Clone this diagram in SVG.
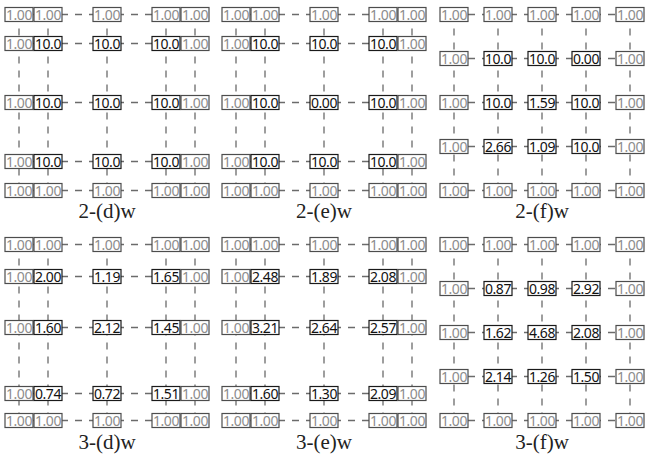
<svg xmlns="http://www.w3.org/2000/svg" xmlns:xlink="http://www.w3.org/1999/xlink" width="645" height="459" viewBox="0 0 645 459">
  <style>
    .c line { stroke:#6b6b6b; stroke-width:1.3; stroke-dasharray:7 7; fill:none }
    .n use { fill:#fff; stroke-width:1.2 }
    .g use { stroke:#4d4d4d }
    .k use { stroke:#1a1a1a }
    .n text { font-family:"Noto Sans","DejaVu Sans",sans-serif; font-size:14px; letter-spacing:-0.4px; text-anchor:middle }
    .g text { fill:#8c8c8c }
    .k text { fill:#111 }
    .lbl { font-family:"Liberation Serif","Times New Roman",serif; font-size:21px; text-anchor:middle; fill:#222 }
  </style>
  <defs>
    <rect id="box" x="-14" y="-7" width="28" height="14"/>
  </defs>
  <rect width="645" height="459" fill="#fff"/>

  <!-- dashed grid connectors -->
  <g id="connectors" class="c">
    <!-- 2-(d)w -->
    <line x1="19" y1="14.5" x2="195" y2="14.5"/>
    <line x1="19" y1="43.5" x2="195" y2="43.5"/>
    <line x1="19" y1="102.5" x2="195" y2="102.5"/>
    <line x1="19" y1="161.5" x2="195" y2="161.5"/>
    <line x1="19" y1="190.5" x2="195" y2="190.5"/>
    <line x1="19" y1="14.5" x2="19" y2="190.5"/>
    <line x1="48" y1="14.5" x2="48" y2="190.5"/>
    <line x1="107" y1="14.5" x2="107" y2="190.5"/>
    <line x1="166" y1="14.5" x2="166" y2="190.5"/>
    <line x1="195" y1="14.5" x2="195" y2="190.5"/>
    <!-- 2-(e)w -->
    <line x1="236" y1="14.5" x2="412" y2="14.5"/>
    <line x1="236" y1="43.5" x2="412" y2="43.5"/>
    <line x1="236" y1="102.5" x2="412" y2="102.5"/>
    <line x1="236" y1="161.5" x2="412" y2="161.5"/>
    <line x1="236" y1="190.5" x2="412" y2="190.5"/>
    <line x1="236" y1="14.5" x2="236" y2="190.5"/>
    <line x1="265" y1="14.5" x2="265" y2="190.5"/>
    <line x1="324" y1="14.5" x2="324" y2="190.5"/>
    <line x1="383" y1="14.5" x2="383" y2="190.5"/>
    <line x1="412" y1="14.5" x2="412" y2="190.5"/>
    <!-- 2-(f)w -->
    <line x1="454" y1="14.5" x2="630" y2="14.5"/>
    <line x1="454" y1="58.5" x2="630" y2="58.5"/>
    <line x1="454" y1="102.5" x2="630" y2="102.5"/>
    <line x1="454" y1="146.5" x2="630" y2="146.5"/>
    <line x1="454" y1="190.5" x2="630" y2="190.5"/>
    <line x1="454" y1="14.5" x2="454" y2="190.5"/>
    <line x1="498" y1="14.5" x2="498" y2="190.5"/>
    <line x1="542" y1="14.5" x2="542" y2="190.5"/>
    <line x1="586" y1="14.5" x2="586" y2="190.5"/>
    <line x1="630" y1="14.5" x2="630" y2="190.5"/>
    <!-- 3-(d)w -->
    <line x1="19" y1="244.5" x2="195" y2="244.5"/>
    <line x1="19" y1="276.5" x2="195" y2="276.5"/>
    <line x1="19" y1="327.5" x2="195" y2="327.5"/>
    <line x1="19" y1="393.5" x2="195" y2="393.5"/>
    <line x1="19" y1="420.5" x2="195" y2="420.5"/>
    <line x1="19" y1="244.5" x2="19" y2="420.5"/>
    <line x1="48" y1="244.5" x2="48" y2="420.5"/>
    <line x1="107" y1="244.5" x2="107" y2="420.5"/>
    <line x1="166" y1="244.5" x2="166" y2="420.5"/>
    <line x1="195" y1="244.5" x2="195" y2="420.5"/>
    <!-- 3-(e)w -->
    <line x1="236" y1="244.5" x2="412" y2="244.5"/>
    <line x1="236" y1="276.5" x2="412" y2="276.5"/>
    <line x1="236" y1="327.5" x2="412" y2="327.5"/>
    <line x1="236" y1="393.5" x2="412" y2="393.5"/>
    <line x1="236" y1="420.5" x2="412" y2="420.5"/>
    <line x1="236" y1="244.5" x2="236" y2="420.5"/>
    <line x1="265" y1="244.5" x2="265" y2="420.5"/>
    <line x1="324" y1="244.5" x2="324" y2="420.5"/>
    <line x1="383" y1="244.5" x2="383" y2="420.5"/>
    <line x1="412" y1="244.5" x2="412" y2="420.5"/>
    <!-- 3-(f)w -->
    <line x1="454" y1="244.5" x2="630" y2="244.5"/>
    <line x1="454" y1="288.5" x2="630" y2="288.5"/>
    <line x1="454" y1="332.5" x2="630" y2="332.5"/>
    <line x1="454" y1="376.5" x2="630" y2="376.5"/>
    <line x1="454" y1="420.5" x2="630" y2="420.5"/>
    <line x1="454" y1="244.5" x2="454" y2="420.5"/>
    <line x1="498" y1="244.5" x2="498" y2="420.5"/>
    <line x1="542" y1="244.5" x2="542" y2="420.5"/>
    <line x1="586" y1="244.5" x2="586" y2="420.5"/>
    <line x1="630" y1="244.5" x2="630" y2="420.5"/>
  </g>

  <!-- panel 2-(d)w -->
  <g id="p2d">
    <g id="d2-11" class="n g" transform="translate(19,14.5)"><use href="#box"/><text y="5">1.00</text></g>
    <g id="d2-12" class="n g" transform="translate(48,14.5)"><use href="#box"/><text y="5">1.00</text></g>
    <g id="d2-13" class="n g" transform="translate(107,14.5)"><use href="#box"/><text y="5">1.00</text></g>
    <g id="d2-14" class="n g" transform="translate(166,14.5)"><use href="#box"/><text y="5">1.00</text></g>
    <g id="d2-15" class="n g" transform="translate(195,14.5)"><use href="#box"/><text y="5">1.00</text></g>
    <g id="d2-21" class="n g" transform="translate(19,43.5)"><use href="#box"/><text y="5">1.00</text></g>
    <g id="d2-22" class="n k" transform="translate(48,43.5)"><use href="#box"/><text y="5">10.0</text></g>
    <g id="d2-23" class="n k" transform="translate(107,43.5)"><use href="#box"/><text y="5">10.0</text></g>
    <g id="d2-24" class="n k" transform="translate(166,43.5)"><use href="#box"/><text y="5">10.0</text></g>
    <g id="d2-25" class="n g" transform="translate(195,43.5)"><use href="#box"/><text y="5">1.00</text></g>
    <g id="d2-31" class="n g" transform="translate(19,102.5)"><use href="#box"/><text y="5">1.00</text></g>
    <g id="d2-32" class="n k" transform="translate(48,102.5)"><use href="#box"/><text y="5">10.0</text></g>
    <g id="d2-33" class="n k" transform="translate(107,102.5)"><use href="#box"/><text y="5">10.0</text></g>
    <g id="d2-34" class="n k" transform="translate(166,102.5)"><use href="#box"/><text y="5">10.0</text></g>
    <g id="d2-35" class="n g" transform="translate(195,102.5)"><use href="#box"/><text y="5">1.00</text></g>
    <g id="d2-41" class="n g" transform="translate(19,161.5)"><use href="#box"/><text y="5">1.00</text></g>
    <g id="d2-42" class="n k" transform="translate(48,161.5)"><use href="#box"/><text y="5">10.0</text></g>
    <g id="d2-43" class="n k" transform="translate(107,161.5)"><use href="#box"/><text y="5">10.0</text></g>
    <g id="d2-44" class="n k" transform="translate(166,161.5)"><use href="#box"/><text y="5">10.0</text></g>
    <g id="d2-45" class="n g" transform="translate(195,161.5)"><use href="#box"/><text y="5">1.00</text></g>
    <g id="d2-51" class="n g" transform="translate(19,190.5)"><use href="#box"/><text y="5">1.00</text></g>
    <g id="d2-52" class="n g" transform="translate(48,190.5)"><use href="#box"/><text y="5">1.00</text></g>
    <g id="d2-53" class="n g" transform="translate(107,190.5)"><use href="#box"/><text y="5">1.00</text></g>
    <g id="d2-54" class="n g" transform="translate(166,190.5)"><use href="#box"/><text y="5">1.00</text></g>
    <g id="d2-55" class="n g" transform="translate(195,190.5)"><use href="#box"/><text y="5">1.00</text></g>
    <text class="lbl" x="107" y="218">2-(d)w</text>
  </g>

  <!-- panel 2-(e)w -->
  <g id="p2e">
    <g id="e2-11" class="n g" transform="translate(236,14.5)"><use href="#box"/><text y="5">1.00</text></g>
    <g id="e2-12" class="n g" transform="translate(265,14.5)"><use href="#box"/><text y="5">1.00</text></g>
    <g id="e2-13" class="n g" transform="translate(324,14.5)"><use href="#box"/><text y="5">1.00</text></g>
    <g id="e2-14" class="n g" transform="translate(383,14.5)"><use href="#box"/><text y="5">1.00</text></g>
    <g id="e2-15" class="n g" transform="translate(412,14.5)"><use href="#box"/><text y="5">1.00</text></g>
    <g id="e2-21" class="n g" transform="translate(236,43.5)"><use href="#box"/><text y="5">1.00</text></g>
    <g id="e2-22" class="n k" transform="translate(265,43.5)"><use href="#box"/><text y="5">10.0</text></g>
    <g id="e2-23" class="n k" transform="translate(324,43.5)"><use href="#box"/><text y="5">10.0</text></g>
    <g id="e2-24" class="n k" transform="translate(383,43.5)"><use href="#box"/><text y="5">10.0</text></g>
    <g id="e2-25" class="n g" transform="translate(412,43.5)"><use href="#box"/><text y="5">1.00</text></g>
    <g id="e2-31" class="n g" transform="translate(236,102.5)"><use href="#box"/><text y="5">1.00</text></g>
    <g id="e2-32" class="n k" transform="translate(265,102.5)"><use href="#box"/><text y="5">10.0</text></g>
    <g id="e2-33" class="n k" transform="translate(324,102.5)"><use href="#box"/><text y="5">0.00</text></g>
    <g id="e2-34" class="n k" transform="translate(383,102.5)"><use href="#box"/><text y="5">10.0</text></g>
    <g id="e2-35" class="n g" transform="translate(412,102.5)"><use href="#box"/><text y="5">1.00</text></g>
    <g id="e2-41" class="n g" transform="translate(236,161.5)"><use href="#box"/><text y="5">1.00</text></g>
    <g id="e2-42" class="n k" transform="translate(265,161.5)"><use href="#box"/><text y="5">10.0</text></g>
    <g id="e2-43" class="n k" transform="translate(324,161.5)"><use href="#box"/><text y="5">10.0</text></g>
    <g id="e2-44" class="n k" transform="translate(383,161.5)"><use href="#box"/><text y="5">10.0</text></g>
    <g id="e2-45" class="n g" transform="translate(412,161.5)"><use href="#box"/><text y="5">1.00</text></g>
    <g id="e2-51" class="n g" transform="translate(236,190.5)"><use href="#box"/><text y="5">1.00</text></g>
    <g id="e2-52" class="n g" transform="translate(265,190.5)"><use href="#box"/><text y="5">1.00</text></g>
    <g id="e2-53" class="n g" transform="translate(324,190.5)"><use href="#box"/><text y="5">1.00</text></g>
    <g id="e2-54" class="n g" transform="translate(383,190.5)"><use href="#box"/><text y="5">1.00</text></g>
    <g id="e2-55" class="n g" transform="translate(412,190.5)"><use href="#box"/><text y="5">1.00</text></g>
    <text class="lbl" x="324" y="218">2-(e)w</text>
  </g>

  <!-- panel 2-(f)w -->
  <g id="p2f">
    <g id="f2-11" class="n g" transform="translate(454,14.5)"><use href="#box"/><text y="5">1.00</text></g>
    <g id="f2-12" class="n g" transform="translate(498,14.5)"><use href="#box"/><text y="5">1.00</text></g>
    <g id="f2-13" class="n g" transform="translate(542,14.5)"><use href="#box"/><text y="5">1.00</text></g>
    <g id="f2-14" class="n g" transform="translate(586,14.5)"><use href="#box"/><text y="5">1.00</text></g>
    <g id="f2-15" class="n g" transform="translate(630,14.5)"><use href="#box"/><text y="5">1.00</text></g>
    <g id="f2-21" class="n g" transform="translate(454,58.5)"><use href="#box"/><text y="5">1.00</text></g>
    <g id="f2-22" class="n k" transform="translate(498,58.5)"><use href="#box"/><text y="5">10.0</text></g>
    <g id="f2-23" class="n k" transform="translate(542,58.5)"><use href="#box"/><text y="5">10.0</text></g>
    <g id="f2-24" class="n k" transform="translate(586,58.5)"><use href="#box"/><text y="5">0.00</text></g>
    <g id="f2-25" class="n g" transform="translate(630,58.5)"><use href="#box"/><text y="5">1.00</text></g>
    <g id="f2-31" class="n g" transform="translate(454,102.5)"><use href="#box"/><text y="5">1.00</text></g>
    <g id="f2-32" class="n k" transform="translate(498,102.5)"><use href="#box"/><text y="5">10.0</text></g>
    <g id="f2-33" class="n k" transform="translate(542,102.5)"><use href="#box"/><text y="5">1.59</text></g>
    <g id="f2-34" class="n k" transform="translate(586,102.5)"><use href="#box"/><text y="5">10.0</text></g>
    <g id="f2-35" class="n g" transform="translate(630,102.5)"><use href="#box"/><text y="5">1.00</text></g>
    <g id="f2-41" class="n g" transform="translate(454,146.5)"><use href="#box"/><text y="5">1.00</text></g>
    <g id="f2-42" class="n k" transform="translate(498,146.5)"><use href="#box"/><text y="5">2.66</text></g>
    <g id="f2-43" class="n k" transform="translate(542,146.5)"><use href="#box"/><text y="5">1.09</text></g>
    <g id="f2-44" class="n k" transform="translate(586,146.5)"><use href="#box"/><text y="5">10.0</text></g>
    <g id="f2-45" class="n g" transform="translate(630,146.5)"><use href="#box"/><text y="5">1.00</text></g>
    <g id="f2-51" class="n g" transform="translate(454,190.5)"><use href="#box"/><text y="5">1.00</text></g>
    <g id="f2-52" class="n g" transform="translate(498,190.5)"><use href="#box"/><text y="5">1.00</text></g>
    <g id="f2-53" class="n g" transform="translate(542,190.5)"><use href="#box"/><text y="5">1.00</text></g>
    <g id="f2-54" class="n g" transform="translate(586,190.5)"><use href="#box"/><text y="5">1.00</text></g>
    <g id="f2-55" class="n g" transform="translate(630,190.5)"><use href="#box"/><text y="5">1.00</text></g>
    <text class="lbl" x="542" y="218">2-(f)w</text>
  </g>

  <!-- panel 3-(d)w -->
  <g id="p3d">
    <g id="d3-11" class="n g" transform="translate(19,244.5)"><use href="#box"/><text y="5">1.00</text></g>
    <g id="d3-12" class="n g" transform="translate(48,244.5)"><use href="#box"/><text y="5">1.00</text></g>
    <g id="d3-13" class="n g" transform="translate(107,244.5)"><use href="#box"/><text y="5">1.00</text></g>
    <g id="d3-14" class="n g" transform="translate(166,244.5)"><use href="#box"/><text y="5">1.00</text></g>
    <g id="d3-15" class="n g" transform="translate(195,244.5)"><use href="#box"/><text y="5">1.00</text></g>
    <g id="d3-21" class="n g" transform="translate(19,276.5)"><use href="#box"/><text y="5">1.00</text></g>
    <g id="d3-22" class="n k" transform="translate(48,276.5)"><use href="#box"/><text y="5">2.00</text></g>
    <g id="d3-23" class="n k" transform="translate(107,276.5)"><use href="#box"/><text y="5">1.19</text></g>
    <g id="d3-24" class="n k" transform="translate(166,276.5)"><use href="#box"/><text y="5">1.65</text></g>
    <g id="d3-25" class="n g" transform="translate(195,276.5)"><use href="#box"/><text y="5">1.00</text></g>
    <g id="d3-31" class="n g" transform="translate(19,327.5)"><use href="#box"/><text y="5">1.00</text></g>
    <g id="d3-32" class="n k" transform="translate(48,327.5)"><use href="#box"/><text y="5">1.60</text></g>
    <g id="d3-33" class="n k" transform="translate(107,327.5)"><use href="#box"/><text y="5">2.12</text></g>
    <g id="d3-34" class="n k" transform="translate(166,327.5)"><use href="#box"/><text y="5">1.45</text></g>
    <g id="d3-35" class="n g" transform="translate(195,327.5)"><use href="#box"/><text y="5">1.00</text></g>
    <g id="d3-41" class="n g" transform="translate(19,393.5)"><use href="#box"/><text y="5">1.00</text></g>
    <g id="d3-42" class="n k" transform="translate(48,393.5)"><use href="#box"/><text y="5">0.74</text></g>
    <g id="d3-43" class="n k" transform="translate(107,393.5)"><use href="#box"/><text y="5">0.72</text></g>
    <g id="d3-44" class="n k" transform="translate(166,393.5)"><use href="#box"/><text y="5">1.51</text></g>
    <g id="d3-45" class="n g" transform="translate(195,393.5)"><use href="#box"/><text y="5">1.00</text></g>
    <g id="d3-51" class="n g" transform="translate(19,420.5)"><use href="#box"/><text y="5">1.00</text></g>
    <g id="d3-52" class="n g" transform="translate(48,420.5)"><use href="#box"/><text y="5">1.00</text></g>
    <g id="d3-53" class="n g" transform="translate(107,420.5)"><use href="#box"/><text y="5">1.00</text></g>
    <g id="d3-54" class="n g" transform="translate(166,420.5)"><use href="#box"/><text y="5">1.00</text></g>
    <g id="d3-55" class="n g" transform="translate(195,420.5)"><use href="#box"/><text y="5">1.00</text></g>
    <text class="lbl" x="107" y="449">3-(d)w</text>
  </g>

  <!-- panel 3-(e)w -->
  <g id="p3e">
    <g id="e3-11" class="n g" transform="translate(236,244.5)"><use href="#box"/><text y="5">1.00</text></g>
    <g id="e3-12" class="n g" transform="translate(265,244.5)"><use href="#box"/><text y="5">1.00</text></g>
    <g id="e3-13" class="n g" transform="translate(324,244.5)"><use href="#box"/><text y="5">1.00</text></g>
    <g id="e3-14" class="n g" transform="translate(383,244.5)"><use href="#box"/><text y="5">1.00</text></g>
    <g id="e3-15" class="n g" transform="translate(412,244.5)"><use href="#box"/><text y="5">1.00</text></g>
    <g id="e3-21" class="n g" transform="translate(236,276.5)"><use href="#box"/><text y="5">1.00</text></g>
    <g id="e3-22" class="n k" transform="translate(265,276.5)"><use href="#box"/><text y="5">2.48</text></g>
    <g id="e3-23" class="n k" transform="translate(324,276.5)"><use href="#box"/><text y="5">1.89</text></g>
    <g id="e3-24" class="n k" transform="translate(383,276.5)"><use href="#box"/><text y="5">2.08</text></g>
    <g id="e3-25" class="n g" transform="translate(412,276.5)"><use href="#box"/><text y="5">1.00</text></g>
    <g id="e3-31" class="n g" transform="translate(236,327.5)"><use href="#box"/><text y="5">1.00</text></g>
    <g id="e3-32" class="n k" transform="translate(265,327.5)"><use href="#box"/><text y="5">3.21</text></g>
    <g id="e3-33" class="n k" transform="translate(324,327.5)"><use href="#box"/><text y="5">2.64</text></g>
    <g id="e3-34" class="n k" transform="translate(383,327.5)"><use href="#box"/><text y="5">2.57</text></g>
    <g id="e3-35" class="n g" transform="translate(412,327.5)"><use href="#box"/><text y="5">1.00</text></g>
    <g id="e3-41" class="n g" transform="translate(236,393.5)"><use href="#box"/><text y="5">1.00</text></g>
    <g id="e3-42" class="n k" transform="translate(265,393.5)"><use href="#box"/><text y="5">1.60</text></g>
    <g id="e3-43" class="n k" transform="translate(324,393.5)"><use href="#box"/><text y="5">1.30</text></g>
    <g id="e3-44" class="n k" transform="translate(383,393.5)"><use href="#box"/><text y="5">2.09</text></g>
    <g id="e3-45" class="n g" transform="translate(412,393.5)"><use href="#box"/><text y="5">1.00</text></g>
    <g id="e3-51" class="n g" transform="translate(236,420.5)"><use href="#box"/><text y="5">1.00</text></g>
    <g id="e3-52" class="n g" transform="translate(265,420.5)"><use href="#box"/><text y="5">1.00</text></g>
    <g id="e3-53" class="n g" transform="translate(324,420.5)"><use href="#box"/><text y="5">1.00</text></g>
    <g id="e3-54" class="n g" transform="translate(383,420.5)"><use href="#box"/><text y="5">1.00</text></g>
    <g id="e3-55" class="n g" transform="translate(412,420.5)"><use href="#box"/><text y="5">1.00</text></g>
    <text class="lbl" x="324" y="449">3-(e)w</text>
  </g>

  <!-- panel 3-(f)w -->
  <g id="p3f">
    <g id="f3-11" class="n g" transform="translate(454,244.5)"><use href="#box"/><text y="5">1.00</text></g>
    <g id="f3-12" class="n g" transform="translate(498,244.5)"><use href="#box"/><text y="5">1.00</text></g>
    <g id="f3-13" class="n g" transform="translate(542,244.5)"><use href="#box"/><text y="5">1.00</text></g>
    <g id="f3-14" class="n g" transform="translate(586,244.5)"><use href="#box"/><text y="5">1.00</text></g>
    <g id="f3-15" class="n g" transform="translate(630,244.5)"><use href="#box"/><text y="5">1.00</text></g>
    <g id="f3-21" class="n g" transform="translate(454,288.5)"><use href="#box"/><text y="5">1.00</text></g>
    <g id="f3-22" class="n k" transform="translate(498,288.5)"><use href="#box"/><text y="5">0.87</text></g>
    <g id="f3-23" class="n k" transform="translate(542,288.5)"><use href="#box"/><text y="5">0.98</text></g>
    <g id="f3-24" class="n k" transform="translate(586,288.5)"><use href="#box"/><text y="5">2.92</text></g>
    <g id="f3-25" class="n g" transform="translate(630,288.5)"><use href="#box"/><text y="5">1.00</text></g>
    <g id="f3-31" class="n g" transform="translate(454,332.5)"><use href="#box"/><text y="5">1.00</text></g>
    <g id="f3-32" class="n k" transform="translate(498,332.5)"><use href="#box"/><text y="5">1.62</text></g>
    <g id="f3-33" class="n k" transform="translate(542,332.5)"><use href="#box"/><text y="5">4.68</text></g>
    <g id="f3-34" class="n k" transform="translate(586,332.5)"><use href="#box"/><text y="5">2.08</text></g>
    <g id="f3-35" class="n g" transform="translate(630,332.5)"><use href="#box"/><text y="5">1.00</text></g>
    <g id="f3-41" class="n g" transform="translate(454,376.5)"><use href="#box"/><text y="5">1.00</text></g>
    <g id="f3-42" class="n k" transform="translate(498,376.5)"><use href="#box"/><text y="5">2.14</text></g>
    <g id="f3-43" class="n k" transform="translate(542,376.5)"><use href="#box"/><text y="5">1.26</text></g>
    <g id="f3-44" class="n k" transform="translate(586,376.5)"><use href="#box"/><text y="5">1.50</text></g>
    <g id="f3-45" class="n g" transform="translate(630,376.5)"><use href="#box"/><text y="5">1.00</text></g>
    <g id="f3-51" class="n g" transform="translate(454,420.5)"><use href="#box"/><text y="5">1.00</text></g>
    <g id="f3-52" class="n g" transform="translate(498,420.5)"><use href="#box"/><text y="5">1.00</text></g>
    <g id="f3-53" class="n g" transform="translate(542,420.5)"><use href="#box"/><text y="5">1.00</text></g>
    <g id="f3-54" class="n g" transform="translate(586,420.5)"><use href="#box"/><text y="5">1.00</text></g>
    <g id="f3-55" class="n g" transform="translate(630,420.5)"><use href="#box"/><text y="5">1.00</text></g>
    <text class="lbl" x="542" y="449">3-(f)w</text>
  </g>
</svg>
